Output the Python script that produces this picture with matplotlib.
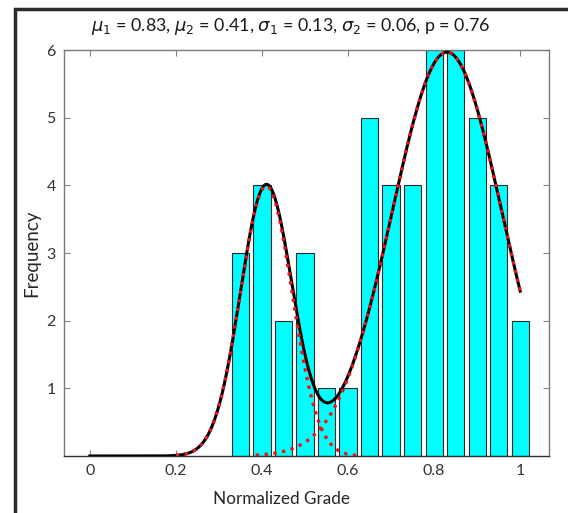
import numpy as np
import matplotlib.pyplot as plt
from matplotlib.patches import Rectangle

plt.rcParams['font.family'] = ['Lato', 'DejaVu Sans']
plt.rcParams['mathtext.fontset'] = 'dejavusans'

# histogram of normalized grades (bin centres and counts)
centers = [0.35, 0.40, 0.45, 0.50, 0.55, 0.60, 0.65, 0.70, 0.75, 0.80, 0.85, 0.90, 0.95, 1.00]
counts = [3, 4, 2, 3, 1, 1, 5, 4, 4, 6, 6, 5, 4, 2]
bin_w = 0.05

# fitted two-component gaussian mixture
mu1, mu2 = 0.83, 0.41
sigma1, sigma2 = 0.127, 0.06
p = 0.76

n_total = sum(counts)
scale = n_total * bin_w


def gauss(x, mu, s):
    return np.exp(-0.5 * ((x - mu) / s) ** 2) / (s * np.sqrt(2 * np.pi))


fig = plt.figure(figsize=(5.68, 5.13), dpi=100)
ax = fig.add_axes([0.1127, 0.1111, 0.8539, 0.7914])

ax.bar(centers, counts, width=0.04, color='#00ffff', edgecolor='#2a2a2a', linewidth=0.8, zorder=2)

x = np.linspace(0, 1, 400)
mix = scale * (p * gauss(x, mu1, sigma1) + (1 - p) * gauss(x, mu2, sigma2))
ax.plot(x, mix, '-', color='black', lw=2.2, zorder=3)

for m, s, w in [(mu1, sigma1, p), (mu2, sigma2, 1 - p)]:
    xc = np.linspace(max(0, m - 3.5 * s), min(1, m + 3.5 * s), 300)
    ax.plot(xc, scale * w * gauss(xc, m, s), ':', color='#e8141a', lw=2.4, zorder=4)

ax.set_xlim(-0.06, 1.067)
ax.set_ylim(0, 6)
ax.set_xticks([0, 0.2, 0.4, 0.6, 0.8, 1])
ax.set_xticklabels(['0', '0.2', '0.4', '0.6', '0.8', '1'])
ax.set_yticks([1, 2, 3, 4, 5, 6])
ax.tick_params(direction='in', length=4, width=0.8, color='#808080', labelcolor='#333333',
               labelsize=11.5, top=True, right=True, pad=6)
for sp in ax.spines.values():
    sp.set_color('#7a7a7a')
    sp.set_linewidth(1.0)
ax.spines['bottom'].set_color('#303030')

ax.set_xlabel('Normalized Grade', fontsize=12.3, color='#262626')
ax.xaxis.set_label_coords(0.449, -0.085)
ax.set_ylabel('Frequency', fontsize=13.5, color='#262626')
ax.yaxis.set_label_coords(-0.048, 0.5)

title = (r'$\mu_1$ = %.2f, $\mu_2$ = %.2f, $\sigma_1$ = %.2f, $\sigma_2$ = %.2f, p = %.2f'
         % (mu1, mu2, sigma1, sigma2, p))
fig.text(0.512, 0.948, title, ha='center', va='center', fontsize=12.9, color='#1a1a1a')

# dark frame around the panel
fig.patches.append(Rectangle((15 / 568, -0.1), 1.2, (513 - 9) / 513 + 0.1, transform=fig.transFigure,
                             fill=False, edgecolor='#2b2b2b', linewidth=2.5))

fig.savefig('out.png', dpi=100)
